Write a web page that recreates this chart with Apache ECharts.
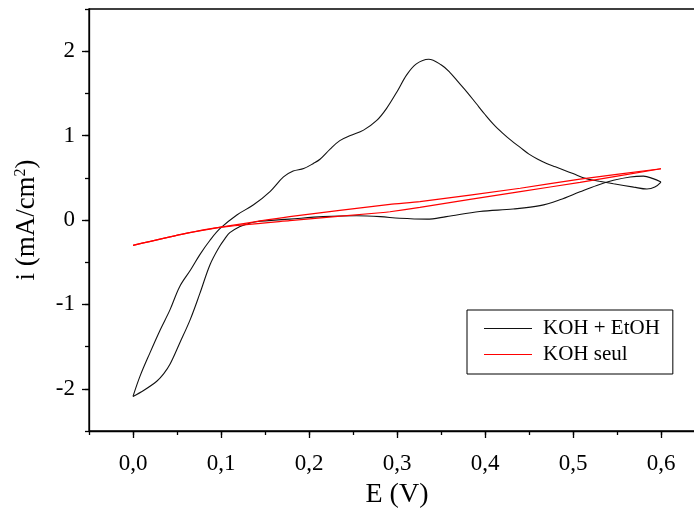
<!DOCTYPE html>
<html>
<head>
<meta charset="utf-8">
<title>Voltammétrie cyclique</title>
<script src="https://cdn.jsdelivr.net/npm/echarts@6/dist/echarts.min.js"></script>
<style>
  html, body { margin: 0; padding: 0; background: #fff; }
  #chart { width: 694px; height: 508px; }
</style>
</head>
<body>
<div id="chart"></div>
<script>
// KOH + EtOH : balayage aller (0 -> 0,6 V) puis retour (0,6 -> 0 V)
var ethE_fwd = [0, 0.008, 0.019, 0.031, 0.042, 0.053, 0.0655, 0.076, 0.0875, 0.099, 0.118, 0.137, 0.156, 0.171, 0.182, 0.194, 0.205, 0.2125, 0.224, 0.235, 0.247, 0.262, 0.277, 0.288, 0.300, 0.311, 0.322, 0.336, 0.350, 0.360, 0.370, 0.380, 0.390, 0.400, 0.410, 0.420, 0.430, 0.440, 0.450, 0.460, 0.470, 0.480, 0.490, 0.500, 0.515, 0.530, 0.546, 0.569, 0.584, 0.593, 0.600];
var ethI_fwd = [-2.09, -1.85, -1.58, -1.30, -1.065, -0.79, -0.59, -0.41, -0.24, -0.10, 0.06, 0.18, 0.34, 0.51, 0.58, 0.61, 0.67, 0.72, 0.84, 0.94, 1.00, 1.065, 1.18, 1.32, 1.52, 1.72, 1.85, 1.905, 1.84, 1.75, 1.63, 1.51, 1.38, 1.25, 1.13, 1.03, 0.94, 0.86, 0.78, 0.72, 0.67, 0.63, 0.59, 0.55, 0.49, 0.46, 0.43, 0.39, 0.367, 0.39, 0.45];
var ethE_rev = [0.600, 0.591, 0.580, 0.565, 0.546, 0.527, 0.508, 0.485, 0.4625, 0.432, 0.394, 0.356, 0.334, 0.303, 0.281, 0.254, 0.216, 0.178, 0.140, 0.129, 0.121, 0.110, 0.1045, 0.098, 0.0875, 0.076, 0.065, 0.053, 0.042, 0.035, 0.027, 0.012, 0];
var ethI_rev = [0.45, 0.49, 0.52, 0.51, 0.47, 0.41, 0.335, 0.24, 0.17, 0.13, 0.10, 0.04, 0.01, 0.02, 0.04, 0.05, 0.04, 0.01, -0.02, -0.05, -0.08, -0.15, -0.22, -0.32, -0.53, -0.87, -1.18, -1.46, -1.71, -1.82, -1.91, -2.02, -2.09];

// KOH seul : balayage aller puis retour
var kohE_fwd = [0, 0.055, 0.100, 0.178, 0.292, 0.326, 0.440, 0.508, 0.600];
var kohI_fwd = [-0.30, -0.17, -0.085, 0.04, 0.186, 0.217, 0.376, 0.485, 0.607];
var kohE_rev = [0.600, 0.508, 0.440, 0.326, 0.292, 0.281, 0.178, 0.100, 0.055, 0];
var kohI_rev = [0.607, 0.446, 0.337, 0.15, 0.098, 0.086, -0.008, -0.085, -0.17, -0.30];

var seriesNames = ['KOH + EtOH', 'KOH seul'];
var xMajorTicks = [0, 0.1, 0.2, 0.3, 0.4, 0.5, 0.6];
var yMajorTicks = [-2, -1, 0, 1, 2];

function zip(xs, ys) {
  return xs.map(function (x, k) { return [x, ys[k]]; });
}

var FONT = '"Liberation Serif", "Times New Roman", serif';
var AXLINE = { color: '#000', width: 1.3 };
var ETH_COLOR = '#111';
var KOH_COLOR = '#ff0000';

// one series per sweep direction, so smoothing never wraps round a vertex
function sweep(name, data, color, width, smooth) {
  return {
    name: name, type: 'line', data: data,
    xAxisIndex: 0, yAxisIndex: 0,
    symbol: 'none', smooth: smooth,
    lineStyle: { color: color, width: width },
    itemStyle: { color: color }
  };
}

var chart = echarts.init(document.getElementById('chart'), null, { renderer: 'canvas' });

chart.setOption({
  backgroundColor: '#fff',
  animation: false,
  grid: {
    left: 89, top: 9, right: -11, bottom: 77,
    outerBoundsMode: 'none', containLabel: false,
    show: true, borderColor: '#000', borderWidth: 1.3, backgroundColor: 'transparent'
  },
  legend: {
    left: 467, top: 310,
    orient: 'vertical',
    borderColor: '#000', borderWidth: 1,
    padding: [8, 13, 9, 17],
    icon: 'rect',
    itemWidth: 48, itemHeight: 1.2, itemGap: 5,
    textStyle: { fontFamily: FONT, fontSize: 21, color: '#000', lineHeight: 20, padding: [0, 0, 0, 6] },
    data: seriesNames
  },
  xAxis: [
    {
      type: 'value', min: -0.05, max: 0.65, interval: 0.05,
      position: 'bottom',
      axisLine: { show: true, onZero: false, lineStyle: AXLINE },
      axisTick: { show: true, inside: false, length: 4, lineStyle: AXLINE },
      axisLabel: { show: false },
      splitLine: { show: false },
      name: 'E (V)', nameLocation: 'middle', nameGap: 50,
      nameTextStyle: { fontFamily: FONT, fontSize: 28, color: '#000' }
    },
    {
      type: 'value', min: -0.05, max: 0.65,
      position: 'bottom',
      axisLine: { show: false, onZero: false },
      axisTick: { show: true, inside: false, length: 7, customValues: xMajorTicks, lineStyle: AXLINE },
      axisLabel: {
        show: true, margin: 21, customValues: xMajorTicks,
        fontFamily: FONT, fontSize: 23, color: '#000',
        formatter: function (v) { return v.toFixed(1).replace('.', ','); }
      },
      splitLine: { show: false }
    }
  ],
  yAxis: [
    {
      type: 'value', min: -2.5, max: 2.5, interval: 0.5,
      position: 'left',
      axisLine: { show: true, onZero: false, lineStyle: AXLINE },
      axisTick: { show: true, inside: false, length: 4, lineStyle: AXLINE },
      axisLabel: { show: false },
      splitLine: { show: false },
      name: 'i (mA/cm{sup|2})', nameLocation: 'middle', nameGap: 48,
      nameTextStyle: {
        fontFamily: FONT, fontSize: 27, color: '#000',
        rich: { sup: { fontFamily: FONT, fontSize: 16, color: '#000', verticalAlign: 'top', lineHeight: 28 } }
      }
    },
    {
      type: 'value', min: -2.5, max: 2.5,
      position: 'left',
      axisLine: { show: false, onZero: false },
      axisTick: { show: true, inside: false, length: 7, customValues: yMajorTicks, lineStyle: AXLINE },
      axisLabel: {
        show: true, margin: 14, customValues: yMajorTicks,
        fontFamily: FONT, fontSize: 23, color: '#000',
        formatter: function (v) { return String(v); }
      },
      splitLine: { show: false }
    }
  ],
  series: [
    sweep(seriesNames[0], zip(ethE_fwd, ethI_fwd), ETH_COLOR, 1.1, 0.35),
    sweep(seriesNames[0], zip(ethE_rev, ethI_rev), ETH_COLOR, 1.1, 0.35),
    sweep(seriesNames[1], zip(kohE_fwd, kohI_fwd), KOH_COLOR, 1.2, 0.2),
    sweep(seriesNames[1], zip(kohE_rev, kohI_rev), KOH_COLOR, 1.2, 0.2)
  ]
});
</script>
</body>
</html>
